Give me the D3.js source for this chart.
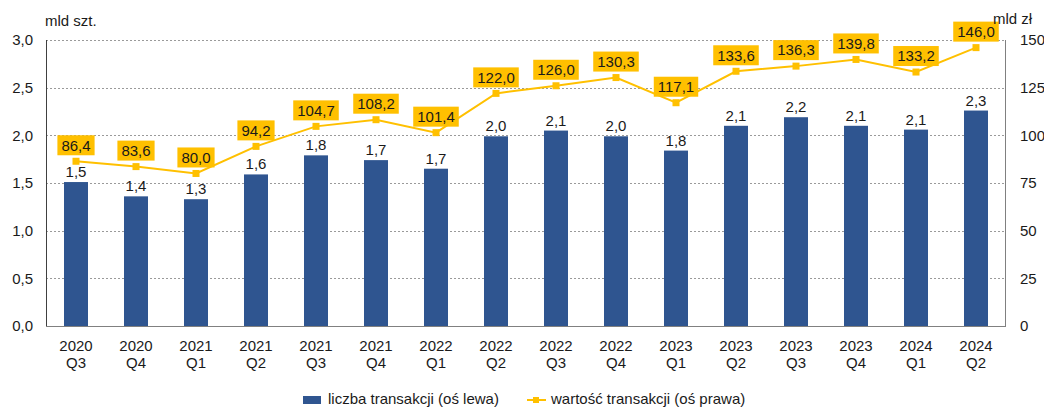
<!DOCTYPE html>
<html>
<head>
<meta charset="utf-8">
<script src="https://cdn.jsdelivr.net/npm/d3@7"></script>
<style>
  body { margin: 0; background: #fff; }
  text { font-family: "Liberation Sans", Arial, sans-serif; fill: #1a1a1a; }
</style>
</head>
<body>
<div id="chart"></div>
<script>
const years = ["2020", "2020", "2021", "2021", "2021", "2021", "2022", "2022", "2022", "2022", "2023", "2023", "2023", "2023", "2024", "2024"];
const quarters = ["Q3", "Q4", "Q1", "Q2", "Q3", "Q4", "Q1", "Q2", "Q3", "Q4", "Q1", "Q2", "Q3", "Q4", "Q1", "Q2"];
const counts = [1.51, 1.36, 1.33, 1.59, 1.79, 1.74, 1.65, 1.99, 2.05, 1.99, 1.84, 2.10, 2.19, 2.10, 2.06, 2.26];
const countLabels = ["1,5", "1,4", "1,3", "1,6", "1,8", "1,7", "1,7", "2,0", "2,1", "2,0", "1,8", "2,1", "2,2", "2,1", "2,1", "2,3"];
const values = [86.4, 83.6, 80.0, 94.2, 104.7, 108.2, 101.4, 122.0, 126.0, 130.3, 117.1, 133.6, 136.3, 139.8, 133.2, 146.0];
const leftTicks = [0, 0.5, 1.0, 1.5, 2.0, 2.5, 3.0];
const rightTicks = [0, 25, 50, 75, 100, 125, 150];

const width = 1044, height = 407;
const margins = {top: 40, right: 38, bottom: 81, left: 46};
const chartWidth = width - margins.left - margins.right;
const chartHeight = height - margins.top - margins.bottom;

const svg = d3.select("#chart")
    .append("svg")
    .attr("width", width)
    .attr("height", height);

const chartGroup = svg.append("g")
    .attr("transform", `translate(${margins.left}, ${margins.top})`);

const cats = years.map((y, i) => `${y} ${quarters[i]}`);
const xScale = d3.scaleBand().domain(cats).range([0, chartWidth]).paddingInner(0.6).paddingOuter(0.3);
const yLeft = d3.scaleLinear().domain([0, 3]).range([chartHeight, 0]);
const yRight = d3.scaleLinear().domain([0, 150]).range([chartHeight, 0]);
const fmt = d => d3.format(".1f")(d).replace(".", ",");

// gridlines
chartGroup.selectAll(".grid")
    .data(leftTicks.slice(1))
    .enter()
    .append("line")
    .attr("x1", 0)
    .attr("x2", chartWidth)
    .attr("y1", d => Math.round(yLeft(d)) + 0.5)
    .attr("y2", d => Math.round(yLeft(d)) + 0.5)
    .attr("stroke", "#9a9a9a")
    .attr("stroke-dasharray", "2,2");

// bars
chartGroup.selectAll(".bar")
    .data(counts)
    .enter()
    .append("rect")
    .attr("x", (d, i) => xScale(cats[i]))
    .attr("y", d => yLeft(d))
    .attr("width", xScale.bandwidth())
    .attr("height", d => chartHeight - yLeft(d))
    .attr("fill", "#2F5590");

chartGroup.selectAll(".barLabel")
    .data(counts)
    .enter()
    .append("text")
    .attr("x", (d, i) => xScale(cats[i]) + xScale.bandwidth() / 2)
    .attr("y", d => yLeft(d) - 5)
    .attr("text-anchor", "middle")
    .attr("font-size", 15)
    .text((d, i) => countLabels[i]);

// axes lines
chartGroup.append("line")
    .attr("x1", 0.5).attr("x2", 0.5).attr("y1", 0).attr("y2", chartHeight)
    .attr("stroke", "#404040");
chartGroup.append("line")
    .attr("x1", chartWidth - 0.5).attr("x2", chartWidth - 0.5).attr("y1", 0).attr("y2", chartHeight)
    .attr("stroke", "#808080");
chartGroup.append("line")
    .attr("x1", 0).attr("x2", chartWidth).attr("y1", chartHeight + 0.5).attr("y2", chartHeight + 0.5)
    .attr("stroke", "#808080");

// line
const xc = i => xScale(cats[i]) + xScale.bandwidth() / 2;
const line = d3.line().x((d, i) => xc(i)).y(d => yRight(d));
chartGroup.append("path")
    .datum(values)
    .attr("d", line)
    .attr("fill", "none")
    .attr("stroke", "#FFC000")
    .attr("stroke-width", 2);

chartGroup.selectAll(".marker")
    .data(values)
    .enter()
    .append("rect")
    .attr("x", (d, i) => xc(i) - 3.5)
    .attr("y", d => yRight(d) - 3.5)
    .attr("width", 7)
    .attr("height", 7)
    .attr("fill", "#FFC000");

const valueLabels = chartGroup.selectAll(".valueLabel")
    .data(values)
    .enter()
    .append("g")
    .attr("transform", (d, i) => `translate(${xc(i)}, ${yRight(d) - 16})`);

valueLabels.append("text")
    .attr("text-anchor", "middle")
    .attr("dy", "0.35em")
    .attr("font-size", 15)
    .text(d => fmt(d))
    .each(function() {
        const bb = this.getBBox();
        d3.select(this.parentNode).insert("rect", "text")
            .attr("x", bb.x - 4)
            .attr("y", -10)
            .attr("width", bb.width + 8)
            .attr("height", 20)
            .attr("fill", "#FFC000");
    });

// left axis labels
chartGroup.selectAll(".leftTick")
    .data(leftTicks)
    .enter()
    .append("text")
    .attr("x", -13)
    .attr("y", d => yLeft(d))
    .attr("dy", "0.35em")
    .attr("text-anchor", "end")
    .attr("font-size", 15)
    .text(d => fmt(d));

chartGroup.selectAll(".rightTick")
    .data(rightTicks)
    .enter()
    .append("text")
    .attr("x", chartWidth + 14)
    .attr("y", d => yRight(d))
    .attr("dy", "0.35em")
    .attr("text-anchor", "start")
    .attr("font-size", 15)
    .text(d => d);

// x labels
const xLabels = chartGroup.selectAll(".xLabel")
    .data(cats)
    .enter()
    .append("text")
    .attr("text-anchor", "middle")
    .attr("font-size", 15);
xLabels.append("tspan")
    .attr("x", (d, i) => xc(i))
    .attr("y", chartHeight + 25)
    .text((d, i) => years[i]);
xLabels.append("tspan")
    .attr("x", (d, i) => xc(i))
    .attr("y", chartHeight + 42)
    .text((d, i) => quarters[i]);

// axis titles
svg.append("text")
    .attr("x", 45).attr("y", 26)
    .attr("font-size", 15)
    .text("mld szt.");
svg.append("text")
    .attr("x", 993).attr("y", 24)
    .attr("font-size", 15)
    .text("mld zł");

// legend
svg.append("rect")
    .attr("x", 303).attr("y", 396)
    .attr("width", 18).attr("height", 8)
    .attr("fill", "#2F5590");
svg.append("text")
    .attr("x", 328).attr("y", 404)
    .attr("font-size", 15)
    .text("liczba transakcji (oś lewa)");
svg.append("line")
    .attr("x1", 527).attr("x2", 546).attr("y1", 400).attr("y2", 400)
    .attr("stroke", "#FFC000").attr("stroke-width", 2);
svg.append("rect")
    .attr("x", 533).attr("y", 397)
    .attr("width", 6).attr("height", 6)
    .attr("fill", "#FFC000");
svg.append("text")
    .attr("x", 551).attr("y", 404)
    .attr("font-size", 15)
    .text("wartość transakcji (oś prawa)");
</script>
</body>
</html>
